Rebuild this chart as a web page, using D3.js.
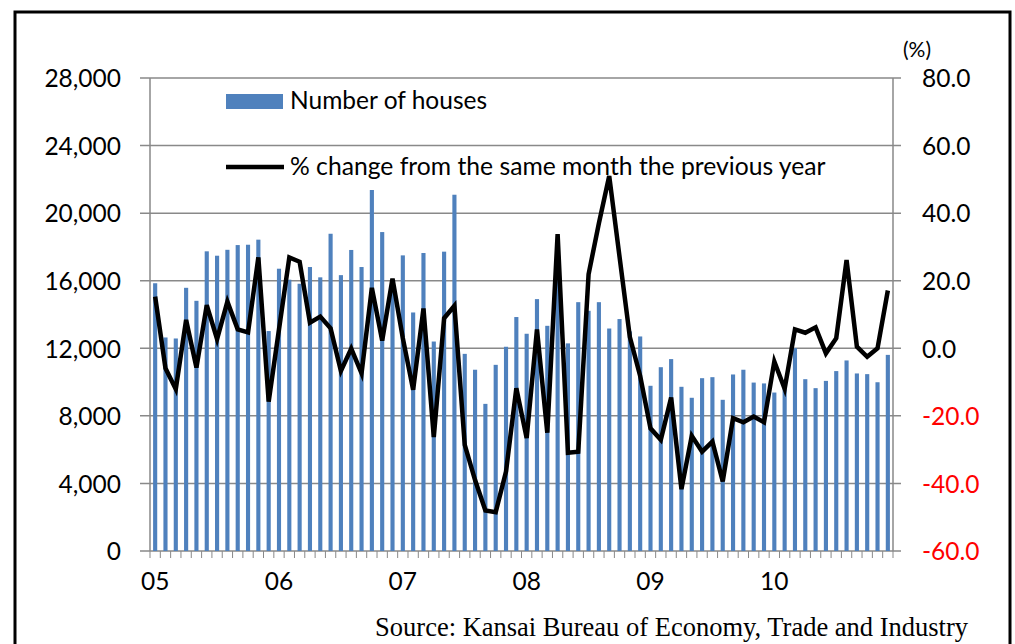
<!DOCTYPE html>
<head>
<meta charset="utf-8">
<style>
body { margin: 0; background: #fff; }
text { font-family: Lato, "Open Sans", sans-serif; }
</style>
</head>
<body>
<svg width="1015" height="644"></svg>
<script src="https://cdn.jsdelivr.net/npm/d3@7"></script>
<script>

// monthly, Jan 2005 .. Dec 2010
var years = ["05", "06", "07", "08", "09", "10"];
var months = d3.range(1, 13);

var houses = [
  15850, 12640, 12580, 15580, 14810, 17740, 17480, 17830, 18110, 18130, 18430, 13020,
  16710, 16060, 15820, 16810, 16200, 18780, 16330, 17820, 16810, 21370, 18880, 16000,
  17500, 14120, 17640, 12400, 17720, 21090, 11670, 10730, 8710, 11020, 12090, 13850,
  12860, 14910, 13330, 16400, 12290, 14730, 14220, 14730, 13170, 13730, 13000, 12700,
  9780, 10880, 11360, 9720, 9070, 10230, 10290, 8950, 10450, 10730, 9970, 9920,
  9380, 10000, 12010, 10170, 9640, 10070, 10650, 11280, 10510, 10470, 9990, 11610
];

var pctChange = [
  15.3, -5.9, -12.1, 8.4, -5.7, 12.8, 2.7, 13.8, 5.6, 4.7, 26.9, -15.8,
  5.6, 26.9, 25.6, 7.6, 9.4, 5.9, -6.7, -0.1, -7.4, 17.9, 2.3, 20.6,
  3.0, -12.3, 11.8, -26.3, 8.9, 12.6, -28.6, -39.0, -48.0, -48.5, -36.5, -11.8,
  -26.6, 5.6, -25.0, 33.8, -30.9, -30.6, 21.9, 37.0, 51.0, 27.1, 3.3, -8.2,
  -23.7, -27.1, -14.6, -41.7, -25.9, -30.6, -27.6, -39.4, -20.7, -21.9, -20.2, -21.9,
  -3.9, -12.0, 5.6, 4.6, 6.2, -1.5, 3.0, 26.1, 0.5, -2.5, 0.0, 17.1
];

var leftTicks = [0, 4000, 8000, 12000, 16000, 20000, 24000, 28000];
var rightTicks = [-60, -40, -20, 0, 20, 40, 60, 80];

function draw() {
  var cats = [];
  years.forEach(function(y) { months.forEach(function(m) { cats.push(y + "-" + m); }); });

  var svg = d3.select("svg");
  var x0 = 150, x1 = 893, y0 = 78, y1 = 551;
  var grey = "#898989";

  // frame
  svg.append("rect")
      .attr("x", 15).attr("y", 12)
      .attr("width", 995).attr("height", 650)
      .attr("fill", "none").attr("stroke", "#000").attr("stroke-width", 3);

  var x = d3.scaleBand().domain(cats).range([x0, x1]).paddingInner(0.6).paddingOuter(0.3);
  var yL = d3.scaleLinear().domain([0, 28000]).range([y1, y0]);
  var yR = d3.scaleLinear().domain([-60, 80]).range([y1, y0]);
  var step = x.step();

  // gridlines
  svg.append("g").selectAll("line")
      .data(leftTicks)
    .enter().append("line")
      .attr("x1", x0 - 10).attr("x2", x1 + 8)
      .attr("y1", function(d) { return yL(d); })
      .attr("y2", function(d) { return yL(d); })
      .attr("stroke", grey).attr("stroke-width", 1.5);

  // axis lines
  svg.append("line").attr("x1", x0).attr("x2", x0).attr("y1", y0).attr("y2", y1)
      .attr("stroke", grey).attr("stroke-width", 1.5);
  svg.append("line").attr("x1", x1).attr("x2", x1).attr("y1", y0).attr("y2", y1)
      .attr("stroke", grey).attr("stroke-width", 1.5);

  // category ticks below the axis
  svg.append("g").selectAll("line")
      .data(cats.concat(["end"]))
    .enter().append("line")
      .attr("x1", function(d) { return d == "end" ? x1 : x(d) - step * 0.3; })
      .attr("x2", function(d) { return d == "end" ? x1 : x(d) - step * 0.3; })
      .attr("y1", y1).attr("y2", y1 + 7)
      .attr("stroke", grey).attr("stroke-width", 1);

  // bars
  svg.append("g").selectAll("rect")
      .data(houses)
    .enter().append("rect")
      .attr("x", function(d, i) { return x(cats[i]); })
      .attr("y", function(d) { return yL(d); })
      .attr("width", x.bandwidth())
      .attr("height", function(d) { return y1 - yL(d); })
      .attr("fill", "#4F81BD");

  // line
  var line = d3.line()
      .x(function(d, i) { return x(cats[i]) + x.bandwidth() / 2; })
      .y(function(d) { return yR(d); });

  svg.append("path")
      .datum(pctChange)
      .attr("d", line)
      .attr("fill", "none")
      .attr("stroke", "#000")
      .attr("stroke-width", 4.5)
      .attr("stroke-linejoin", "miter");

  // left axis
  var gL = svg.append("g")
      .attr("transform", "translate(" + (x0 - 10) + ",0)")
      .call(d3.axisLeft(yL).tickValues(leftTicks).tickFormat(d3.format(",")).tickSize(0).tickPadding(19));
  gL.select(".domain").remove();
  gL.selectAll("text").attr("font-size", 24.5).attr("fill", "#000").attr("dy", "0.36em")
      .attr("font-family", "Lato");

  // right axis
  var fmtR = d3.format(".1f");
  var gR = svg.append("g")
      .attr("transform", "translate(" + (x1 + 8) + ",0)")
      .call(d3.axisRight(yR).tickValues(rightTicks)
        .tickFormat(function(d) { return fmtR(d).replace("\u2212", "-"); })
        .tickSize(0).tickPadding(21));
  gR.select(".domain").remove();
  gR.selectAll("text").attr("font-size", 24.5).attr("dy", "0.36em")
      .attr("font-family", "Lato")
      .attr("fill", function(d) { return d < 0 ? "#FF0000" : "#000"; });

  svg.append("text")
      .attr("x", 903).attr("y", 57)
      .attr("font-size", 21)
      .text("(%)");

  // year labels
  var gX = svg.append("g")
      .attr("transform", "translate(0," + y1 + ")")
      .call(d3.axisBottom(x)
        .tickValues(years.map(function(y) { return y + "-1"; }))
        .tickFormat(function(d) { return d.split("-")[0]; })
        .tickSize(0).tickPadding(22));
  gX.select(".domain").remove();
  gX.selectAll("text").attr("font-size", 24.5).attr("fill", "#000").attr("font-family", "Lato");

  // legend
  svg.append("rect")
      .attr("x", 226).attr("y", 94).attr("width", 57).attr("height", 15)
      .attr("fill", "#4F81BD");
  svg.append("text")
      .attr("x", 290).attr("y", 109)
      .attr("font-size", 24.5)
      .text("Number of houses");

  svg.append("line")
      .attr("x1", 226).attr("x2", 284).attr("y1", 167).attr("y2", 167)
      .attr("stroke", "#000").attr("stroke-width", 4.5);
  svg.append("text")
      .attr("x", 290).attr("y", 175)
      .attr("font-size", 24.7)
      .text("% change from the same month the previous year");

  // source
  svg.append("text")
      .attr("x", 968).attr("y", 636)
      .attr("text-anchor", "end")
      .attr("font-size", 26.5)
      .style("font-family", "'Liberation Serif', 'Times New Roman', serif")
      .text("Source: Kansai Bureau of Economy, Trade and Industry");
}

draw();

</script>
</body>
